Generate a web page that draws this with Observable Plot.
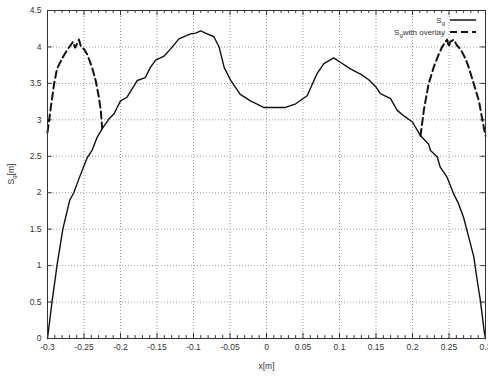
<!DOCTYPE html>
<html>
<head>
<meta charset="utf-8">
<script src="https://cdn.jsdelivr.net/npm/d3@7"></script>
<script src="https://cdn.jsdelivr.net/npm/@observablehq/plot@0.6"></script>
<style>
  html, body { margin: 0; padding: 0; background: #fff; }
  #wrap { position: relative; width: 488px; height: 376px; font-family: "Liberation Sans", Arial, sans-serif; }
  #legend { position: absolute; top: 14px; right: 12px; font-size: 8px; color: #333; }
  #legend .row { display: flex; align-items: center; justify-content: flex-end; height: 12px; }
  #legend .row span { margin-right: 5px; }
  #legend sub { font-size: 6px; vertical-align: -2px; line-height: 0; }
</style>
</head>
<body>
<div id="wrap">
  <div id="chart"></div>
  <div id="legend">
    <div class="row"><span>S<sub>g</sub></span><svg width="26" height="6"><line x1="0" y1="3" x2="26" y2="3" stroke="#111" stroke-width="1.5"/></svg></div>
    <div class="row"><span>S<sub>g</sub>with overlay</span><svg width="26" height="6"><line x1="0" y1="3" x2="26" y2="3" stroke="#111" stroke-width="2" stroke-dasharray="7,4"/></svg></div>
  </div>
</div>
<script>
// S_g (solid)
const sgX = [-0.3, -0.2936, -0.2867, -0.279, -0.2695, -0.264, -0.257, -0.25, -0.2456, -0.239, -0.232, -0.225, -0.216, -0.209, -0.2, -0.191, -0.177, -0.166, -0.159, -0.152, -0.141, -0.1315, -0.12, -0.104, -0.097, -0.09, -0.0836, -0.072, -0.065, -0.058, -0.049, -0.036, -0.022, -0.004, 0.026, 0.04, 0.0557, 0.069, 0.0786, 0.092, 0.101, 0.115, 0.13, 0.14, 0.15, 0.156, 0.17, 0.179, 0.19, 0.2, 0.211, 0.222, 0.2247, 0.234, 0.238, 0.2475, 0.2566, 0.263, 0.27, 0.277, 0.284, 0.288, 0.293, 0.2986, 0.3];
const sgY = [0, 0.52, 1.02, 1.5, 1.9, 2.0, 2.19, 2.37, 2.48, 2.58, 2.76, 2.88, 3.01, 3.08, 3.26, 3.31, 3.54, 3.58, 3.72, 3.82, 3.87, 3.97, 4.11, 4.18, 4.19, 4.22, 4.19, 4.14, 4.0, 3.72, 3.54, 3.35, 3.26, 3.17, 3.17, 3.22, 3.33, 3.63, 3.77, 3.85, 3.79, 3.7, 3.62, 3.55, 3.45, 3.36, 3.29, 3.13, 3.04, 2.97, 2.78, 2.67, 2.58, 2.49, 2.35, 2.21, 1.98, 1.85, 1.66, 1.39, 1.12, 0.84, 0.52, 0.07, 0];
// S_g with overlay (dashed), left and right parts
const ovLeftX = [-0.3, -0.296, -0.291, -0.287, -0.28, -0.273, -0.268, -0.265, -0.262, -0.257, -0.254, -0.25, -0.2456, -0.239, -0.234, -0.2297, -0.227, -0.2251];
const ovLeftY = [2.83, 3.13, 3.49, 3.7, 3.84, 3.96, 4.03, 4.07, 3.99, 4.1, 4.0, 3.97, 3.9, 3.72, 3.54, 3.31, 3.13, 2.88];
const ovRightX = [0.211, 0.2155, 0.222, 0.229, 0.236, 0.2406, 0.245, 0.2475, 0.2497, 0.2516, 0.2566, 0.261, 0.2657, 0.2726, 0.277, 0.284, 0.291, 0.2955, 0.3];
const ovRightY = [2.78, 3.13, 3.49, 3.72, 3.9, 4.0, 4.07, 4.1, 4.0, 4.07, 4.1, 4.02, 3.97, 3.84, 3.72, 3.49, 3.26, 3.01, 2.78];
// ticks
const xTicks = [-0.3, -0.25, -0.2, -0.15, -0.1, -0.05, 0, 0.05, 0.1, 0.15, 0.2, 0.25, 0.3];
const xMinor = d3.range(-30, 31).filter(i => i % 5 !== 0).map(i => i / 100);
const yTicks = [0, 0.5, 1, 1.5, 2, 2.5, 3, 3.5, 4, 4.5];
const xLabel = "x[m]";

const sg = sgX.map((x, i) => ({x, y: sgY[i]}));
const ovL = ovLeftX.map((x, i) => ({x, y: ovLeftY[i]}));
const ovR = ovRightX.map((x, i) => ({x, y: ovRightY[i]}));

const fmt = d => String(+d.toFixed(2));
const tickCol = "#333";
const innerX = xTicks.slice(1, -1);
const innerY = yTicks.slice(1, -1);

const plot = Plot.plot({
  width: 488,
  height: 376,
  marginLeft: 47,
  marginRight: 3,
  marginTop: 10,
  marginBottom: 38,
  style: {fontFamily: "'Liberation Sans', Arial, sans-serif", fontSize: "8.5px", color: "#333", background: "#fff"},
  x: {domain: [-0.3, 0.3]},
  y: {domain: [0, 4.5]},
  marks: [
    Plot.gridX(innerX, {stroke: "#999", strokeOpacity: 1, strokeDasharray: "1,2", strokeWidth: 1}),
    Plot.gridY(innerY, {stroke: "#999", strokeOpacity: 1, strokeDasharray: "1,2", strokeWidth: 1}),
    // inward ticks
    Plot.ruleX(xTicks, {y1: 0, y2: 0.07, stroke: tickCol}),
    Plot.ruleX(xTicks, {y1: 4.5, y2: 4.43, stroke: tickCol}),
    Plot.ruleX(xMinor, {y1: 0, y2: 0.04, stroke: tickCol}),
    Plot.ruleX(xMinor, {y1: 4.5, y2: 4.46, stroke: tickCol}),
    Plot.ruleY(yTicks, {x1: -0.3, x2: -0.2935, stroke: tickCol}),
    Plot.ruleY(yTicks, {x1: 0.3, x2: 0.2935, stroke: tickCol}),
    Plot.axisX(xTicks, {tickSize: 0, tickPadding: 5, tickFormat: fmt, label: xLabel, labelAnchor: "center", labelArrow: "none", labelOffset: 30}),
    Plot.axisY(yTicks, {tickSize: 0, tickPadding: 6, tickFormat: fmt, label: null}),
    Plot.line(ovL, {x: "x", y: "y", stroke: "#111", strokeWidth: 2, strokeDasharray: "7,4"}),
    Plot.line(ovR, {x: "x", y: "y", stroke: "#111", strokeWidth: 2, strokeDasharray: "7,4"}),
    Plot.line(sg, {x: "x", y: "y", stroke: "#111", strokeWidth: 1.4}),
    Plot.frame({stroke: "#333"})
  ]
});

document.getElementById("chart").appendChild(plot);

// y-axis label with subscript
const ys = plot.scale("y");
const t = d3.select(plot).append("text")
  .attr("transform", `translate(14,${ys.apply(2.25)}) rotate(-90)`)
  .attr("text-anchor", "middle")
  .attr("fill", "#333")
  .attr("font-size", "8.5px");
t.append("tspan").text("S");
t.append("tspan").attr("dy", "2").attr("font-size", "6px").text("g");
t.append("tspan").attr("dy", "-2").text("[m]");
</script>
</body>
</html>
